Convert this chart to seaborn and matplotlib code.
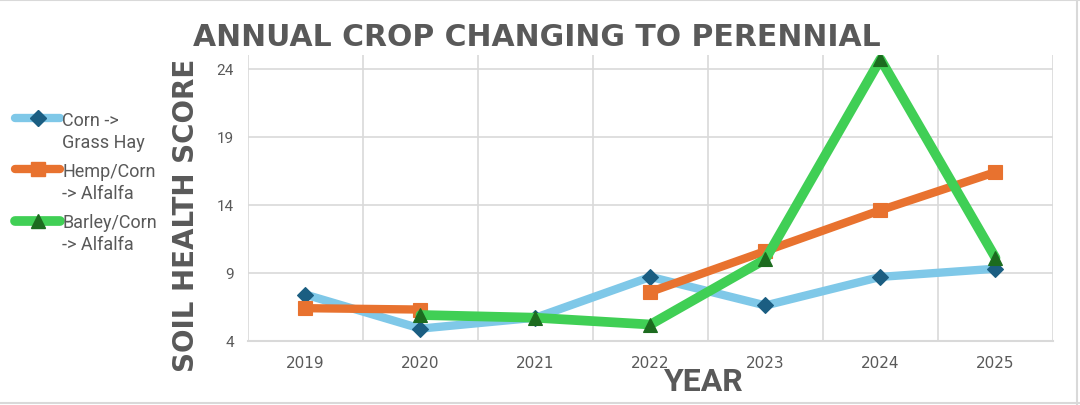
import numpy as np
import pandas as pd
import matplotlib
matplotlib.use('Agg')
import matplotlib.pyplot as plt
from matplotlib.lines import Line2D
import seaborn as sns

years = ['2019', '2020', '2021', '2022', '2023', '2024', '2025']
corn_grass_hay = [7.4, 4.9, 5.7, 8.7, 6.6, 8.7, 9.3]
hemp_corn_alfalfa = [6.4, 6.3, np.nan, 7.6, 10.6, 13.6, 16.4]
barley_corn_alfalfa = [np.nan, 5.9, 5.7, 5.2, 10.0, 24.7, 10.1]
series_names = ['Corn ->\nGrass Hay', 'Hemp/Corn\n-> Alfalfa', 'Barley/Corn\n-> Alfalfa']
y_ticks = [4, 9, 14, 19, 24]

TEXT = '#595959'
GRID = '#D9D9D9'

styles = [
    dict(color='#7FC8E8', marker='D', mfc='#1B5E82', mec='#1B5E82', ms=8, lw=6),
    dict(color='#E8722F', marker='s', mfc='#E8722F', mec='#E8722F', ms=10, lw=6),
    dict(color='#40CF55', marker='^', mfc='#1C6B1F', mec='#1C6B1F', ms=10, lw=7),
]


def to_frame(values):
    df = pd.DataFrame({'x': np.arange(len(values)), 'score': values})
    # break the line where a value is missing
    df['seg'] = df['score'].isna().cumsum()
    return df.dropna()


def main():
    sns.set_style('white')
    plt.rcParams['font.family'] = ['Roboto', 'DejaVu Sans']

    fig = plt.figure(figsize=(10.8, 4.06), dpi=100)
    ax = fig.add_axes([0.2296, 0.158, 0.7454, 0.704])

    for values, st in zip([corn_grass_hay, hemp_corn_alfalfa, barley_corn_alfalfa], styles):
        sns.lineplot(data=to_frame(values), x='x', y='score', units='seg', estimator=None,
                     color=st['color'], linewidth=st['lw'], marker=st['marker'],
                     markersize=st['ms'], markerfacecolor=st['mfc'],
                     markeredgecolor=st['mec'], markeredgewidth=0.8,
                     legend=False, ax=ax)

    ax.set_xlim(-0.5, len(years) - 0.5)
    ax.set_ylim(4, 25)
    ax.set_xticks(range(len(years)))
    ax.set_xticklabels(years, family=['DejaVu Sans'], fontsize=11)
    ax.set_xticks(np.arange(-0.5, len(years), 1.0), minor=True)
    ax.set_yticks(y_ticks)
    ax.grid(False)
    ax.grid(True, which='minor', axis='x', color=GRID, lw=1.2)
    ax.grid(True, which='major', axis='y', color=GRID, lw=1.2)
    ax.tick_params(axis='both', which='both', length=0, colors=TEXT)
    ax.tick_params(axis='y', labelsize=11, pad=10)
    ax.tick_params(axis='x', pad=10)
    for side in ['top', 'left', 'right']:
        ax.spines[side].set_visible(False)
    ax.spines['bottom'].set_color(GRID)
    ax.spines['bottom'].set_linewidth(1.5)
    ax.set_xlabel('')
    ax.set_ylabel('')

    fig.text(0.497, 0.908, 'ANNUAL CROP CHANGING TO PERENNIAL', ha='center', va='center',
             fontsize=21.5, fontweight='bold', color=TEXT, family=['DejaVu Sans'])
    fig.text(0.172, 0.47, 'SOIL HEALTH SCORE', rotation=90, ha='center', va='center',
             fontsize=20, fontweight='bold', color=TEXT, family=['DejaVu Sans'])
    fig.text(0.652, 0.059, 'YEAR', ha='center', va='center',
             fontsize=23, fontweight='bold', color=TEXT)

    handles = [Line2D([], [], color=st['color'], lw=st['lw'], marker=st['marker'],
                      markersize=st['ms'], markerfacecolor=st['mfc'],
                      markeredgecolor=st['mec'])
               for st in styles]
    leg = fig.legend(handles, series_names, loc='upper left', bbox_to_anchor=(0.014, 0.725),
                     frameon=False, fontsize=13, labelcolor=TEXT, handlelength=2.5,
                     handleheight=1.25, handletextpad=0.1, labelspacing=0.6,
                     borderpad=0, borderaxespad=0)
    for t in leg.get_texts():
        t.set_linespacing(1.3)
    # put each handle level with the first line of its label
    for column in leg._legend_handle_box.get_children():
        for item in column.get_children():
            item.align = 'top'

    # thin chart frame like the original
    fig.add_artist(Line2D([0, 1], [0.997, 0.997], color=GRID, lw=1.5, transform=fig.transFigure))
    fig.add_artist(Line2D([0, 1], [0.004, 0.004], color=GRID, lw=1.5, transform=fig.transFigure))
    fig.add_artist(Line2D([0.997, 0.997], [0, 1], color=GRID, lw=1.5, transform=fig.transFigure))

    fig.savefig('out.png', dpi=100)
    plt.close(fig)


if __name__ == '__main__':
    main()
